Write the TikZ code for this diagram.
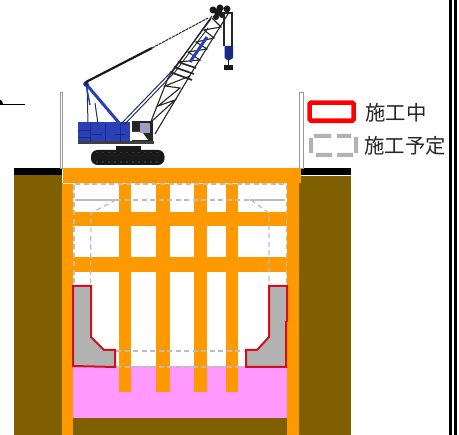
\documentclass[tikz,border=0pt]{standalone}
\usepackage{fontspec}
\newfontfamily\cjk{Noto Sans CJK JP}
\definecolor{soil}{HTML}{7F5F00}
\definecolor{steel}{HTML}{FF9900}
\definecolor{grout}{HTML}{FF99FF}
\definecolor{plan}{HTML}{BCBCBC}
\definecolor{wallgray}{HTML}{B2B2B2}
\definecolor{redline}{HTML}{D0101C}
\definecolor{craneblue}{HTML}{2A40B8}
\definecolor{darkblue}{HTML}{1A2A80}
\tikzset{
  soilfill/.style={fill=soil,draw=none},
  steelfill/.style={fill=steel,draw=none},
  planline/.style={draw=plan,line width=1.2pt,dash pattern=on 5pt off 3.5pt},
  wallpoly/.style={fill=wallgray,draw=redline,line width=2pt,line join=miter},
  lattice/.style={draw=black!85,line width=1.1pt},
  label/.style={font=\cjk\fontsize{20.4}{21}\selectfont,text=black!85,inner sep=0pt,anchor=west},
  pile/.style={fill=white,draw=black!40,line width=.8pt},
  legenddash/.style={fill=wallgray,draw=none}
}
\begin{document}
\begin{tikzpicture}[x=1pt,y=-1pt]
\useasboundingbox (0,0) rectangle (459,435);
\fill[white] (0,0) rectangle (459,435);
% ground
\path[soilfill] (14,170) rectangle (62,435);
\path[soilfill] (298,170) rectangle (351,435);
\fill[black] (14,168) rectangle (62,175);
\fill[black] (301,168) rectangle (351,175);
\draw[white,line width=.6pt] (301,175.5) -- (351,175.5);
% pit
\path[soilfill] (73,418) rectangle (287,435);
\fill[grout] (73,366) rectangle (287,418);
% sheet piles above ground
\path[pile] (60.5,92) rectangle (62.5,168);
\path[pile] (299.5,92) rectangle (303,168);
% steel frame
\path[steelfill] (119,183) rectangle (131,392);
\path[steelfill] (156,183) rectangle (169.5,392);
\path[steelfill] (194,183) rectangle (207,392);
\path[steelfill] (226,183) rectangle (238,392);
\path[steelfill] (73,212) rectangle (287,226);
\path[steelfill] (73,257) rectangle (287,272);
\path[steelfill] (62,183) rectangle (73,435);
\path[steelfill] (287,183) rectangle (299,435);
\path[steelfill] (63,168) rectangle (301,183);
\draw[white!80!steel,line width=.6pt] (63,183.3) -- (287,183.3);
% planned lines
\draw[planline] (75,184) -- (286,184);
\draw[draw=plan,line width=1.4pt] (75,200) -- (116,200);
\draw[planline] (116,200) -- (250,200);
\draw[draw=plan,line width=1.4pt] (250,200) -- (285,200);
\draw[planline] (116,200) -- (91,213) -- (90.5,286);
\draw[planline] (251,200) -- (269,213) -- (269,286);
\draw[planline] (286.5,185) -- (286.5,286);
\draw[planline] (74,185) -- (74,286);
\draw[planline] (116,351) -- (246,351);
\draw[planline] (116,367) -- (246,367);
% walls
\draw[wallpoly] (73,286) -- (91,286) -- (91,337) -- (104,350) -- (115,350) -- (115,367) -- (73,366) -- cycle;
\draw[wallpoly] (269,286) -- (287,286) -- (287,321) -- (286,322) -- (286,367) -- (246,367) -- (246,350) -- (257,350) -- (269,337) -- cycle;
% left marker
\draw[black,line width=.9pt] (0,104.5) -- (25,104.5);
\fill[black] (0,100) -- (2,101) -- (3,104) -- (0,104) -- cycle;
% right frame
\fill[black] (448.5,0) rectangle (451.5,435);
\fill[black] (454,0) rectangle (457,435);
% legend
\draw[red,line width=4.6pt,rounded corners=1.5pt] (309.6,102.6) rectangle (353.6,120.8);
\path[legenddash] (314,134) rectangle (331,138) (337,134) rectangle (351,138)
  (316,153) rectangle (332,157) (337,153) rectangle (353,157)
  (309,138) rectangle (313,153) (354,137) rectangle (358,153);
\node[label] (active) at (365,112.5) {施工中};
\node[label] (planned) at (364,146) {施工予定};
% crane: tracks
\fill[black!90] (116,146) rectangle (141,151);
\fill[black!90,rounded corners=6.5pt] (91,150) rectangle (164.5,165);
\foreach \px in {97,103,...,161}{\fill[white!60!black] (\px,162) circle (.6pt); \fill[white!60!black] (\px,152.5) circle (.4pt);}
% crane: body
\fill[craneblue] (78,122.5) rectangle (130,144);
\fill[black!75] (78,141.5) rectangle (153.5,144);
\draw[darkblue,line width=.6pt] (90,123)--(90,142) (105,124)--(105,142) (120,124)--(120,142) (78,130)--(90,130) (78,137)--(90,137) (92,134)--(102,134) (115,134)--(125,134);
\fill[black!85] (132,121) rectangle (153,141);
\fill[white] (131,132) -- (142,132) -- (148,140) -- (131,140) -- cycle;
\fill[blue!25!gray!60!white] (140,123) rectangle (150,133);
% crane: A-frame
\draw[craneblue,line width=3pt] (86,84) -- (120,124);
\draw[black!80,line width=1pt] (87,84) -- (88,123) (95,103) -- (98,124);
\draw[craneblue,line width=1.4pt] (86,84) -- (90,105);
\fill[darkblue] (86,84) circle (2.8pt);
% crane: pendant
\draw[black!90,line width=2.2pt] (86,82) -- (152,48);
\draw[black!80,line width=1.1pt,dash pattern=on 3pt off .8pt] (152,48) -- (208,18);
% crane: backstays
\draw[darkblue,line width=1pt] (120,125) -- (172,71) -- (211,19);
\draw[black!85,line width=.9pt] (124,125) -- (175,72) -- (208,28);
% crane: boom lattice
\draw[lattice] (150,124) -- (168,78) -- (212,16);
\draw[lattice] (155,134) -- (192,72) -- (228,14);
\draw[lattice] (151,122) -- (175,100) -- (158,106) -- (180,88) -- (165,86) -- (190,76);
\draw[lattice,line width=1.7pt] (170,72) -- (192,80) (174,67) -- (194,74) (178,62) -- (196,68);
\draw[lattice] (178,62) -- (200,60) -- (188,52) -- (207,49) -- (196,42) -- (214,38) -- (204,30) -- (221,27) -- (212,18);
\draw[craneblue,line width=3pt] (190,62) -- (207,37);
% crane: boom head
\fill[black!90] (213,10) circle (3.5pt) (220,8) circle (3.5pt) (227,9) circle (3.5pt) (216,17) circle (3pt) (222,15) circle (3pt) (218,12) circle (4pt);
% crane: hoist
\draw[black!85,line width=1.1pt] (224,12) -- (224,46) (232,12) -- (232,48);
\fill[black!85] (224,12) rectangle (232,14);
\fill[darkblue] (224.5,46) -- (233,46) -- (233,58) -- (230,60) -- (227,60) -- (224.5,58) -- cycle;
\draw[black!90,line width=1pt] (228.5,60) -- (228.5,66);
\fill[black!90] (224,65.5) rectangle (233,70.5);
\end{tikzpicture}
\end{document}
